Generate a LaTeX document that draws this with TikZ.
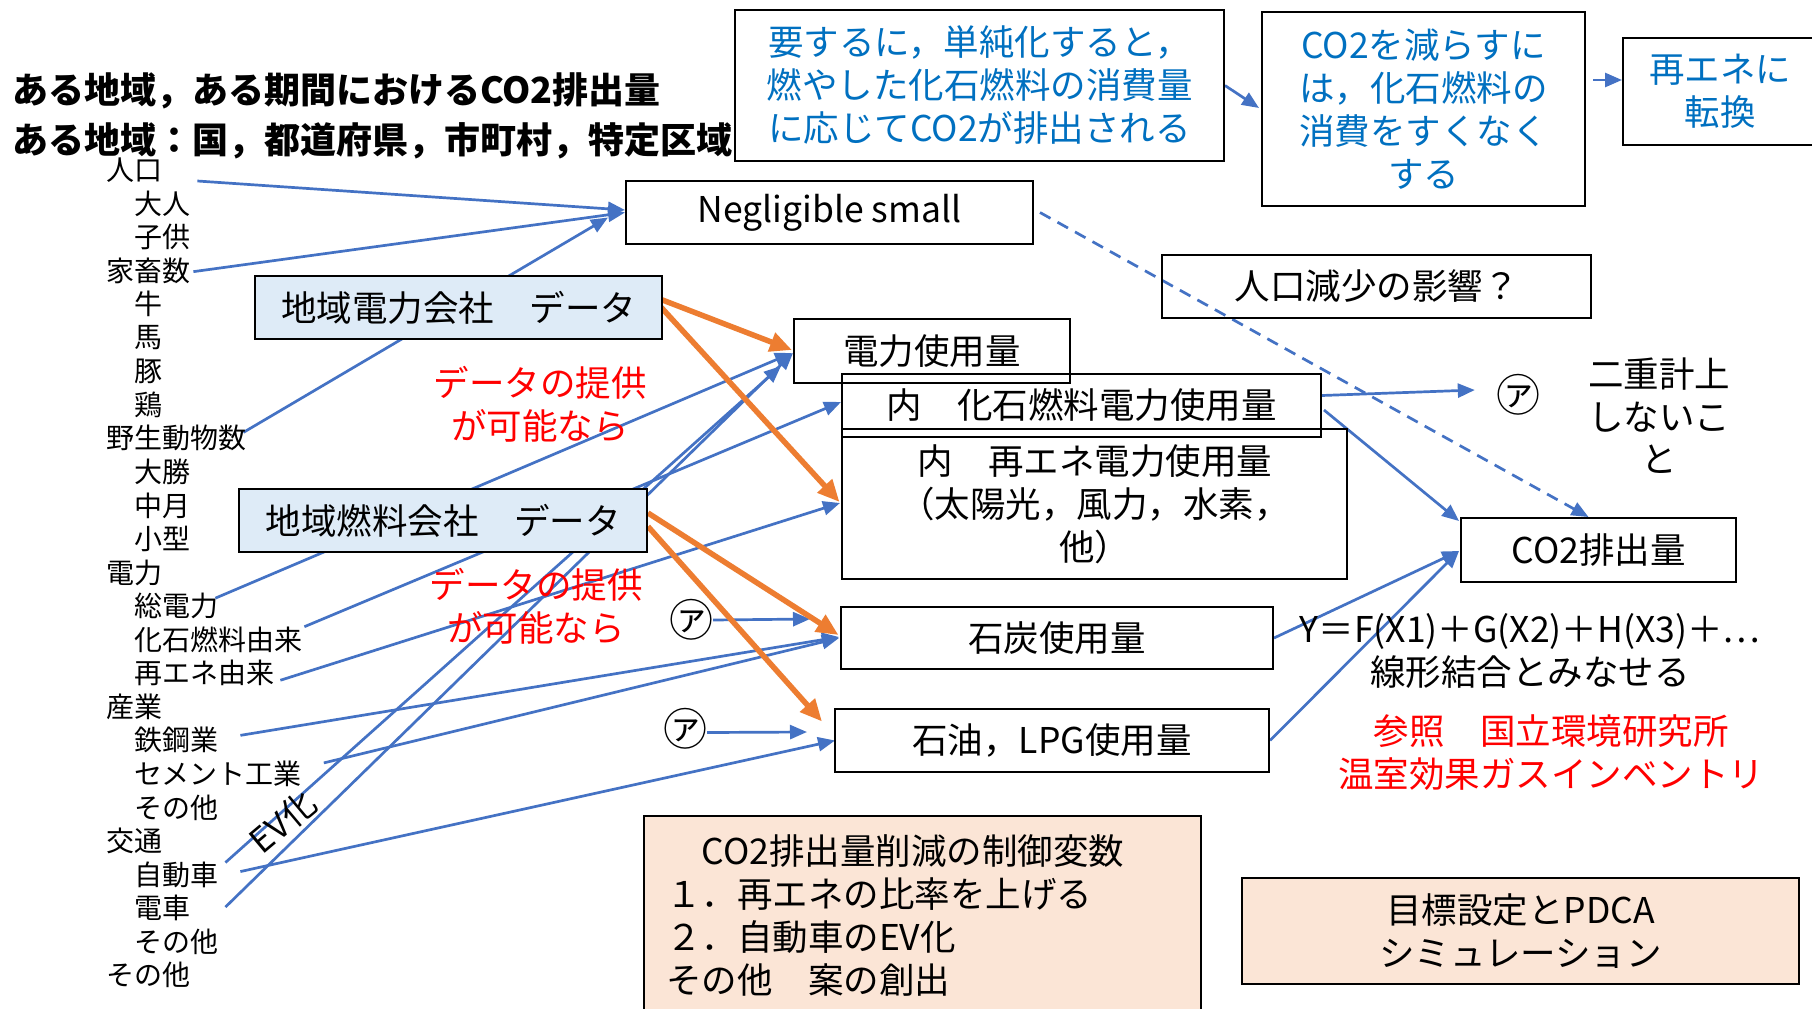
\documentclass[tikz,border=0pt]{standalone}
\usepackage{fontspec}
\setmainfont{Noto Sans CJK JP}
\usetikzlibrary{arrows.meta,calc}
\definecolor{lnblue}{HTML}{4472C4}
\definecolor{txblue}{HTML}{0070C0}
\definecolor{lnorange}{HTML}{ED7D31}
\definecolor{fillblue}{HTML}{DEEBF7}
\definecolor{fillpeach}{HTML}{FBE5D6}
\definecolor{txred}{HTML}{FF0000}
\newcommand\myfs[2]{\fontsize{#1}{#2}\selectfont}
\pgfdeclarelayer{back}
\pgfdeclarelayer{bg}
\pgfsetlayers{back,bg,main}
\tikzset{
  bx/.style={draw=black, line width=2pt, inner sep=0pt, align=center, font=\myfs{35.5}{43}},
  lst/.style={anchor=west, inner sep=0pt, font=\myfs{28}{30}},
  txt/.style={inner sep=0pt, align=center, font=\myfs{35.5}{43}},
  bl/.style={draw=lnblue, line width=2.7pt},
  ba/.style={bl, -{Triangle[length=17pt,width=14pt]}},
  oa/.style={draw=lnorange, line width=5.5pt, -{Triangle[length=22pt,width=19pt]}},
  circa/.style={inner sep=0pt, font=\myfs{44}{46}},
}
\begin{document}
\begin{tikzpicture}[x=1pt,y=-1pt]
\begin{pgfonlayer}{back}
\fill[white] (0,0) rectangle (1812,1009);
\end{pgfonlayer}
\useasboundingbox (0,0) rectangle (1812,1009);

% title
\node[anchor=west, align=left, inner sep=0pt, font=\bfseries\myfs{36}{50}] (title) at (12,116) {ある地域，ある期間におけるCO2排出量\\ある地域：国，都道府県，市町村，特定区域};

% left list
\foreach \t/\lv [count=\i from 0] in {人口/0,大人/1,子供/1,家畜数/0,牛/1,馬/1,豚/1,鶏/1,野生動物数/0,大勝/1,中月/1,小型/1,電力/0,総電力/1,化石燃料由来/1,再エネ由来/1,産業/0,鉄鋼業/1,セメント工業/1,その他/1,交通/0,自動車/1,電車/1,その他/1,その他/0}
  {\node[lst] (l\i) at (106+28*\lv, 170+33.55*\i) {\t};}

% boxes
\node[bx, text=txblue, minimum width=489pt, minimum height=151pt] (boxa) at (979.5,85.5) {要するに，単純化すると，\\燃やした化石燃料の消費量\\に応じてCO2が排出される};
\node[bx, text=txblue, minimum width=323pt, minimum height=194pt] (boxb) at (1423.5,109) {CO2を減らすに\\は，化石燃料の\\消費をすくなく\\する};
\node[bx, text=txblue, minimum width=194pt, minimum height=107pt] (conv) at (1720,91.5) {再エネに\\転換};
\node[bx, minimum width=407pt, minimum height=63pt] (neg) at (829.5,212.5) {Negligible small};
\node[bx, minimum width=429pt, minimum height=63pt] (pop) at (1376.5,286.5) {人口減少の影響？};
\node[bx, fill=fillblue, minimum width=407pt, minimum height=63pt] (dc) at (458.5,307.5) {地域電力会社　データ};
\node[bx, fill=fillblue, minimum width=408pt, minimum height=63pt] (fc) at (443,520.5) {地域燃料会社　データ};
\node[bx, minimum width=276pt, minimum height=64pt] (dry) at (932,351) {電力使用量};
\node[bx, minimum width=479pt, minimum height=63pt] (kas) at (1081.5,405.5) {内　化石燃料電力使用量};
\node[bx, minimum width=505pt, minimum height=150pt] (sai) at (1094.5,504) {内　再エネ電力使用量\\（太陽光，風力，水素，\\他）};
\node[bx, minimum width=432pt, minimum height=62pt] (sek) at (1057,638) {石炭使用量};
\node[bx, minimum width=434pt, minimum height=63pt] (oil) at (1052,740.5) {石油，LPG使用量};
\node[bx, minimum width=275pt, minimum height=64pt] (co2) at (1598.5,550) {CO2排出量};
\node[bx, fill=fillpeach, align=left, text width=513pt, inner xsep=22pt, minimum height=199pt] (ctrl) at (922.5,915.5) {　CO2排出量削減の制御変数\\１．再エネの比率を上げる\\２．自動車のEV化\\その他　案の創出};
\node[bx, fill=fillpeach, minimum width=557pt, minimum height=106pt] (goal) at (1520.5,931) {目標設定とPDCA\\シミュレーション};

% free texts
\node[txt, font=\myfs{35.5}{42.5}] (dbl) at (1659,416) {二重計上\\しないこ\\と};
\node[circa] (a3) at (1518,395) {㋐};
\node[circa] (a1) at (691,620) {㋐};
\node[circa] (a2) at (685,729) {㋐};
\node[txt, font=\myfs{35.5}{42.5}] (formula) at (1530,651) {Y＝F(X1)＋G(X2)＋H(X3)＋⋯\\線形結合とみなせる};
\node[txt, text=txred] (ref) at (1551,753) {参照　国立環境研究所\\温室効果ガスインベントリ};
\node[txt, text=txred] (prov1) at (540,404) {データの提供\\が可能なら};
\node[txt, text=txred] (prov2) at (536,606) {データの提供\\が可能なら};
\node[inner sep=0pt, font=\myfs{34}{36}, rotate=40] (ev) at (283,822) {EV化};

% connectors
\begin{pgfonlayer}{bg}
\draw[ba] ($(l0.east)+(35,11)$) -- ($(neg.west)+(0,-2.5)$);
\draw[ba] ($(l3.east)+(3,1)$) -- (neg.west);
\draw[ba] ($(l8.east)+(-3,-6)$) -- ($(neg.west)+(-17,5)$);
\draw[ba] ($(l13.east)+(-3,-8)$) -- ($(dry.west)+(-1,2)$);
\draw[ba] ($(l14.east)+(2,-13)$) -- ($(kas.west)+(0,-3.5)$);
\draw[ba] ($(l15.east)+(6,7)$) -- ($(sai.west)+(-1,-1)$);
\draw[ba] ($(l17.east)+(22,-5)$) -- ($(sek.west)+(-1,-1)$);
\draw[ba] ($(l18.east)+(22,-11)$) -- ($(sek.west)+(-1,0)$);
\draw[ba] ($(l21.east)+(22,-3)$) -- ($(oil.west)+(1,0)$);
\draw[ba] ($(l21.east)+(7,-12)$) -- ($(dry.west)+(-12,15)$);
\draw[ba] ($(l22.east)+(35,-1)$) -- ($(dry.west)+(0,2)$);
\draw[ba] (a1.east) -- ($(sek.west)+(-30,-19)$);
\draw[ba] ($(a2.east)+(0,3.5)$) -- ($(oil.west)+(-27,-8.5)$);
\draw[ba] ($(kas.east)+(0,-10)$) -- ($(a3.west)+(-21,-5)$);
\draw[ba] ($(kas.east)+(2,4.5)$) -- ($(co2.north west)+(-1,4)$);
\draw[ba] (sek.east) -- ($(co2.west)+(-1,1)$);
\draw[ba] (oil.east) -- ($(co2.west)+(-1,1)$);
\draw[ba, dash pattern=on 12pt off 8pt] ($(neg.east)+(6,0)$) -- ($(co2.north)+(-10,0)$);
\draw[ba] (boxa.east) -- ($(boxb.west)+(-2,-1)$);
\draw[ba] ($(boxb.east)+(7,-29)$) -- ($(conv.west)+(0,-11.5)$);
\draw[oa] ($(dc.east)+(-7,-10)$) -- ($(dry.west)+(-1,-1)$);
\draw[oa] ($(dc.east)+(-4,-2.5)$) -- ($(sai.west)+(-1.5,-2)$);
\draw[oa] ($(fc.east)+(0,-7.5)$) -- ($(sek.west)+(-1.5,-3)$);
\draw[oa] ($(fc.east)+(0,6)$) -- ($(oil.west)+(-12,-19)$);
\end{pgfonlayer}
\end{tikzpicture}
\end{document}
